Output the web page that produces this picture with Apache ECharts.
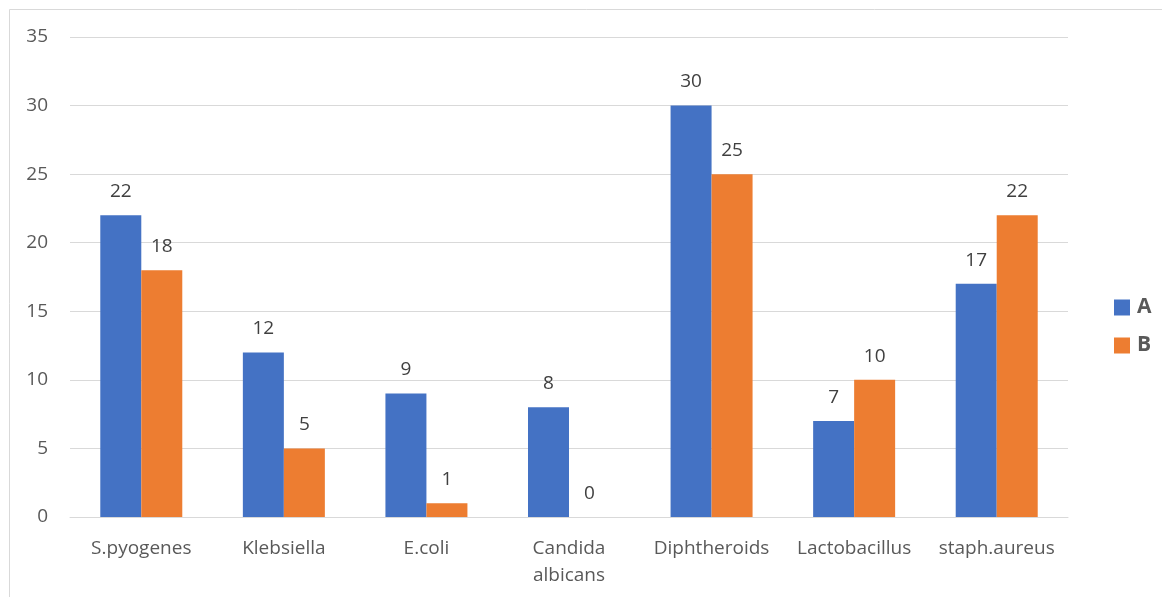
<!DOCTYPE html>
<html>
<head>
<meta charset="utf-8">
<script src="https://cdn.jsdelivr.net/npm/echarts@6/dist/echarts.min.js"></script>
<style>
html,body{margin:0;padding:0;background:#fff;}
#chart{width:1162px;height:597px;}
</style>
</head>
<body>
<div id="chart"></div>
<script>
const categories = ['S.pyogenes', 'Klebsiella', 'E.coli', 'Candida\nalbicans', 'Diphtheroids', 'Lactobacillus', 'staph.aureus'];
const seriesNames = ['A', 'B'];
const valuesA = [22, 12, 9, 8, 30, 7, 17];
const valuesB = [18, 5, 1, 0, 25, 10, 22];
const yTicks = { min: 0, max: 35, interval: 5 };

const FONT = '"Open Sans", "Noto Sans", sans-serif';
const TXT = '#595959';

const chart = echarts.init(document.getElementById('chart'), null, { renderer: 'canvas' });
chart.setOption({
  backgroundColor: '#fff',
  animation: false,
  graphic: [{
    type: 'rect',
    shape: { x: 9.5, y: 9.5, width: 1300, height: 700 },
    style: { fill: 'none', stroke: '#d9d9d9', lineWidth: 1 },
    silent: true
  }],
  grid: { left: 70, right: 94, top: 37, bottom: 80, containLabel: false },
  legend: {
    orient: 'vertical',
    left: 1109,
    top: 292,
    itemWidth: 16,
    itemHeight: 16,
    itemGap: 17,
    icon: 'rect',
    textStyle: { fontFamily: FONT, fontSize: 21, fontWeight: 'bold', color: TXT, padding: [0, 0, 0, 2] },
    data: seriesNames
  },
  xAxis: {
    type: 'category',
    data: categories,
    axisLine: { show: true, lineStyle: { color: '#d9d9d9', width: 1 } },
    axisTick: { show: false },
    axisLabel: { fontFamily: FONT, fontSize: 19, color: TXT, margin: 18, lineHeight: 27, interval: 0 }
  },
  yAxis: {
    type: 'value',
    min: yTicks.min,
    max: yTicks.max,
    interval: yTicks.interval,
    axisLine: { show: false },
    axisTick: { show: false },
    splitLine: { lineStyle: { color: '#d9d9d9', width: 1 } },
    axisLabel: { fontFamily: FONT, fontSize: 19, color: TXT, margin: 22 }
  },
  series: [
    {
      name: seriesNames[0], type: 'bar', data: valuesA,
      barWidth: 41, barGap: '0%',
      itemStyle: { color: '#4472C4' },
      label: { show: true, position: 'top', distance: 14, fontFamily: FONT, fontSize: 19, color: '#404040' }
    },
    {
      name: seriesNames[1], type: 'bar', data: valuesB,
      barWidth: 41, barGap: '0%',
      itemStyle: { color: '#ED7D31' },
      label: { show: true, position: 'top', distance: 14, fontFamily: FONT, fontSize: 19, color: '#404040' }
    }
  ]
});
</script>
</body>
</html>
